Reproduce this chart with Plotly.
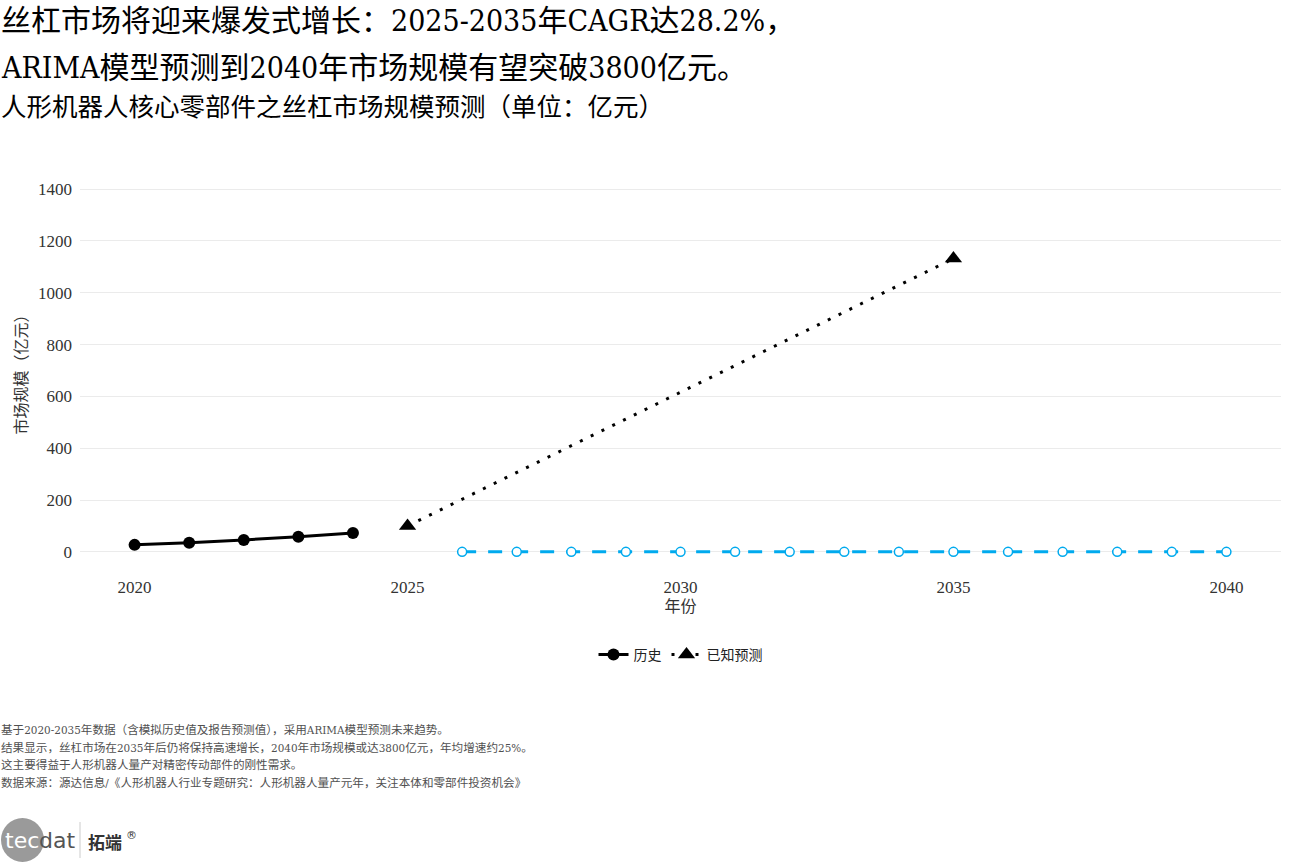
import plotly.graph_objects as go

hist_years = [2020, 2021, 2022, 2023, 2024]
hist_values = [27, 35, 46, 58, 73]

known_years = [2025, 2035]
known_values = [100, 1132]

arima_years = list(range(2026, 2041))
arima_values = [0] * 15

x_ticks = [2020, 2025, 2030, 2035, 2040]
y_ticks = [0, 200, 400, 600, 800, 1000, 1200, 1400]

title_1 = "丝杠市场将迎来爆发式增长：2025-2035年CAGR达28.2%，"
title_2 = "ARIMA模型预测到2040年市场规模有望突破3800亿元。"
subtitle = "人形机器人核心零部件之丝杠市场规模预测（单位：亿元）"
notes = [
    "基于2020-2035年数据（含模拟历史值及报告预测值），采用ARIMA模型预测未来趋势。",
    "结果显示，丝杠市场在2035年后仍将保持高速增长，2040年市场规模或达3800亿元，年均增速约25%。",
    "这主要得益于人形机器人量产对精密传动部件的刚性需求。",
    "数据来源：源达信息/《人形机器人行业专题研究：人形机器人量产元年，关注本体和零部件投资机会》",
]

SERIF = "DejaVu Serif Condensed, Liberation Serif, Noto Sans CJK SC, serif"
TICKF = "Liberation Serif, DejaVu Serif, Noto Sans CJK SC, serif"

L, R, T, B = 80, 15, 171, 294
W, H = 1296, 864
PW, PH = W - L - R, H - T - B


def px(x):
    return (x - L) / PW


def py(y):
    return (H - B - y) / PH


fig = go.Figure()

fig.add_trace(go.Scatter(
    x=arima_years, y=arima_values, mode="lines+markers", name="ARIMA预测",
    line=dict(color="#00AAEE", width=3, dash="14px,12px"),
    marker=dict(symbol="circle", size=9, color="white", line=dict(color="#00AAEE", width=1.5)),
    showlegend=False,
))
fig.add_trace(go.Scatter(
    x=hist_years, y=hist_values, mode="lines+markers", name="历史",
    line=dict(color="black", width=3),
    marker=dict(symbol="circle", size=12, color="black"),
))
fig.add_trace(go.Scatter(
    x=known_years, y=known_values, mode="lines+markers", name="已知预测",
    line=dict(color="black", width=3, dash="3px,9px"),
    marker=dict(symbol="triangle-up", size=15, color="black"),
))

annotations = [
    dict(text=title_1, x=px(-1), y=py(21), font=dict(size=30, family=SERIF, color="black")),
    dict(text=title_2, x=px(-1), y=py(68), font=dict(size=30, family=SERIF, color="black")),
    dict(text=subtitle, x=px(-1), y=py(107), font=dict(size=25.5, family=SERIF, color="black")),
]
for i, n in enumerate(notes):
    annotations.append(dict(text=n, x=px(-1), y=py(730 + i * 17.5),
                            font=dict(size=11.6, family=SERIF, color="#505050")))
# logo texts
annotations += [
    dict(text="tec", x=px(3), y=py(840), font=dict(size=22, family="DejaVu Sans", color="white")),
    dict(text="dat", x=px(37), y=py(840), font=dict(size=22, family="DejaVu Sans", color="#555555")),
    dict(text="<b>拓端</b>", x=px(86), y=py(841), font=dict(size=17, family="Noto Sans CJK SC", color="#333333")),
    dict(text="®", x=px(124), y=py(835), font=dict(size=11, family="DejaVu Sans", color="#333333")),
]
for a in annotations:
    a.update(xref="paper", yref="paper", xanchor="left", yanchor="middle", showarrow=False)

shapes = [
    dict(type="circle", xref="paper", yref="paper",
         x0=px(1), x1=px(44), y0=py(818), y1=py(862),
         fillcolor="#9a9a9a", line=dict(width=0), layer="below"),
    dict(type="line", xref="paper", yref="paper",
         x0=px(80), x1=px(80), y0=py(822), y1=py(858),
         line=dict(color="#cccccc", width=1)),
]

fig.update_layout(
    width=W, height=H,
    margin=dict(l=L, r=R, t=T, b=B, autoexpand=False),
    paper_bgcolor="white", plot_bgcolor="white",
    font=dict(family=TICKF, color="#333333"),
    annotations=annotations,
    shapes=shapes,
    legend=dict(orientation="h", x=0.5, xanchor="center", y=py(655), yanchor="middle",
                font=dict(size=14, family=SERIF, color="#222222")),
    xaxis=dict(range=[2019, 2041], tickvals=x_ticks, showgrid=False, zeroline=False,
               showline=False, ticks="", ticklabelstandoff=5,
               tickfont=dict(size=17, family=TICKF, color="#333333"),
               title=dict(text="年份", font=dict(size=16, family=SERIF, color="#333333"), standoff=2)),
    yaxis=dict(range=[-70, 1470], tickvals=y_ticks, showgrid=True, gridcolor="#EBEBEB",
               gridwidth=1, zeroline=False, showline=False, ticks="",
               ticklabelstandoff=7,
               tickfont=dict(size=17, family=TICKF, color="#333333"),
               title=dict(text="市场规模（亿元）", font=dict(size=16, family=SERIF, color="#333333"), standoff=6)),
)

fig.write_html("out.html", config={"displayModeBar": False},
               post_script="document.body.style.margin='0';")
